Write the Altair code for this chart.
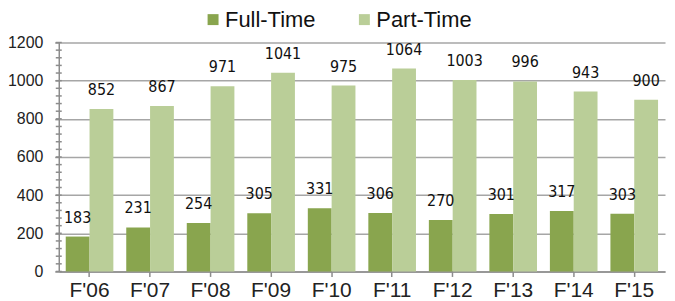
import altair as alt
import pandas as pd

years = ["F'06", "F'07", "F'08", "F'09", "F'10", "F'11", "F'12", "F'13", "F'14", "F'15"]
full_time = [183, 231, 254, 305, 331, 306, 270, 301, 317, 303]
part_time = [852, 867, 971, 1041, 975, 1064, 1003, 996, 943, 900]
series = ["Full-Time", "Part-Time"]
colors = ["#89A54E", "#BACE98"]
major_ticks = [0, 200, 400, 600, 800, 1000, 1200]
minor_ticks = list(range(0, 1201, 40))

rows = []
for i, y in enumerate(years):
    rows.append({"year": y, "type": "Full-Time", "value": full_time[i]})
    rows.append({"year": y, "type": "Part-Time", "value": part_time[i]})
df = pd.DataFrame(rows)
ticks_df = pd.DataFrame({"t": minor_ticks})

xscale = alt.Scale(paddingInner=0.213, paddingOuter=0.115)
yscale = alt.Scale(domain=[0, 1200])

xaxis = alt.Axis(title=None, labelAngle=0, labelFont="Liberation Sans",
                 labelFontSize=21, labelColor="#222222", labelPadding=3,
                 tickSize=5, tickColor="#8C8C8C", domainColor="#8C8C8C",
                 domainWidth=1.5, tickWidth=1.5, grid=False)
yaxis = alt.Axis(title=None, values=major_ticks, format="d", labelOverlap=False,
                 labelFont="Liberation Sans", labelFontSize=16,
                 labelColor="#222222", labelPadding=12, tickSize=4,
                 tickColor="#8C8C8C", tickWidth=1.5,
                 domainColor="#8C8C8C", domainWidth=1.5,
                 grid=True, gridColor="#A6A6A6", gridWidth=1.5)

bars = alt.Chart(df).mark_bar().encode(
    x=alt.X("year:N", sort=years, scale=xscale, axis=xaxis),
    xOffset=alt.XOffset("type:N", sort=series),
    y=alt.Y("value:Q", scale=yscale, axis=yaxis),
    color=alt.Color("type:N", sort=series,
                    scale=alt.Scale(domain=series, range=colors),
                    legend=alt.Legend(title=None, orient="none", direction="horizontal",
                                      legendX=144, legendY=-34, symbolType="square",
                                      symbolSize=121, symbolStrokeWidth=0,
                                      labelFont="Liberation Sans", labelFontSize=22,
                                      labelColor="#111111", labelOffset=1,
                                      columnPadding=38, padding=0)),
)

labels = alt.Chart(df).mark_text(dy=-19, baseline="middle", align="center",
                                 font="DejaVu Sans Condensed", fontSize=16,
                                 color="#111111").encode(
    x=alt.X("year:N", sort=years, scale=xscale, axis=xaxis),
    xOffset=alt.XOffset("type:N", sort=series),
    y=alt.Y("value:Q", scale=yscale, axis=yaxis),
    text=alt.Text("value:Q"),
)

minor = alt.Chart(ticks_df).mark_rule(color="#8C8C8C", strokeWidth=1.5).encode(
    y=alt.Y("t:Q", scale=yscale, axis=yaxis),
    x=alt.value(-3),
    x2=alt.value(3),
)

chart = alt.layer(bars, minor, labels).properties(
    width=609, height=230, autosize="none",
    padding={"left": 51, "top": 34, "right": 2, "bottom": 28},
).configure_view(stroke=None)

chart.save("out.html", embed_options={"renderer": "svg", "actions": False})
